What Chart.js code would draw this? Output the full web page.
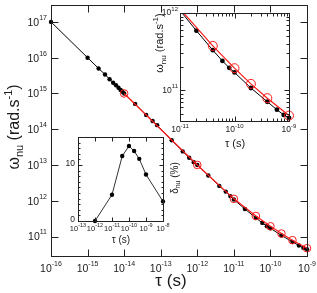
<!DOCTYPE html>
<html><head><meta charset="utf-8">
<script src="https://cdn.jsdelivr.net/npm/chart.js@4.4.0/dist/chart.umd.min.js"></script>
<style>
html,body{margin:0;padding:0;background:#fff;}
#wrap{position:relative;width:317px;height:293px;overflow:hidden;}
#wrap canvas{position:absolute;left:0;top:0;}
</style>
</head><body>
<div id="wrap">
<canvas id="main" width="317" height="293"></canvas>
<canvas id="ins1" width="317" height="293"></canvas>
<canvas id="ins2" width="317" height="293"></canvas>
</div>
<script>
// ---------------- data ----------------
const tauAll = [1e-16, 1e-15, 2e-15, 3e-15, 4e-15, 5e-15, 6e-15, 7e-15, 8e-15, 9e-15,
  1e-14, 2e-14, 4e-14, 6e-14, 8e-14, 2e-13, 4e-13, 6e-13, 8e-13,
  1e-12, 2e-12, 4e-12, 6e-12, 8e-12, 1e-11, 2e-11, 4e-11, 6e-11, 8e-11,
  1e-10, 2e-10, 4e-10, 6e-10, 8e-10, 1e-9];
const omegaAll = [1e17, 1e16, 5e15, 3.4e15, 2.5e15, 2.0e15, 1.7e15, 1.45e15, 1.25e15, 1.12e15,
  1.0e15, 5.1e14, 2.5e14, 1.7e14, 1.3e14, 4.9e13, 2.4e13, 1.6e13, 1.2e13,
  1.0e13, 5.1e12, 2.6e12, 1.8e12, 1.35e12, 1.08e12, 5.9e11, 3.3e11, 2.4e11, 1.95e11,
  1.7e11, 1.07e11, 7.1e10, 5.6e10, 4.8e10, 4.4e10];
const tauFit = [1e-14, 1e-12, 1e-11, 4e-11, 1e-10, 2e-10, 4e-10, 1e-9];
const omegaFit = [1.0e15, 1.0e13, 1.13e12, 3.75e11, 1.93e11, 1.21e11, 7.9e10, 4.7e10];
const tauDelta = [1e-12, 1e-11, 4e-11, 1e-10, 2e-10, 4e-10, 1e-9, 1e-8];
const deltaNu = [0, 4.7, 11.6, 13.4, 12.5, 11.1, 8.3, 3.5];

const mainXExp = [-16, -15, -14, -13, -12, -11, -10, -9];
const mainYExp = [11, 12, 13, 14, 15, 16, 17];
const ins1XExp = [-11, -10, -9];
const ins1YExp = [11, 12];
const ins2XExp = [-13, -12, -11, -10, -9, -8];
const ins2YTicks = [0, 10];

// ---------------- helpers ----------------
const FONT = '"Liberation Sans", Arial, Helvetica, sans-serif';
const TXT = '#1a1a1a';
const AX = '#222';
function pts(xs, ys) { return xs.map((x, i) => ({ x: x, y: ys[i] })); }
function p10(e) { return Number('1e' + e); }

function rich(ctx, parts, x, y, align, rot) {
  ctx.save();
  ctx.translate(x, y);
  if (rot) ctx.rotate(rot);
  ctx.fillStyle = TXT;
  ctx.textBaseline = 'middle';
  ctx.textAlign = 'left';
  let w = 0;
  const ws = parts.map(p => { ctx.font = p[1] + 'px ' + FONT; const m = ctx.measureText(p[0]).width; w += m; return m; });
  let sx = align === 'center' ? -w / 2 : (align === 'right' ? -w : 0);
  parts.forEach((p, i) => { ctx.font = p[1] + 'px ' + FONT; ctx.fillText(p[0], sx, p[2] || 0); sx += ws[i]; });
  ctx.restore();
}
function powParts(e, big, small) { return [['10', big, 0], [String(e), small, -big * 0.48]]; }

function minorLog(decades, lo, hi) {
  const out = [];
  decades.forEach(d => { for (let m = 2; m <= 9; m++) { const v = m * p10(d); if (v > lo && v < hi) out.push(v); } });
  return out;
}

function decor(spec) {
  return {
    id: 'decor_' + spec.name,
    beforeDraw(chart) {
      const a = chart.chartArea, ctx = chart.ctx;
      ctx.save();
      ctx.fillStyle = '#fff';
      if (spec.fillAll) ctx.fillRect(0, 0, chart.width, chart.height);
      else ctx.fillRect(a.left, a.top, a.right - a.left, a.bottom - a.top);
      ctx.restore();
    },
    afterDraw(chart) {
      const a = chart.chartArea, ctx = chart.ctx, xs = chart.scales.x, ys = chart.scales.y;
      const L = Math.round(a.left) + 0.5, R = Math.round(a.right) + 0.5, T = Math.round(a.top) + 0.5, B = Math.round(a.bottom) + 0.5;
      ctx.save();
      ctx.strokeStyle = AX;
      ctx.lineWidth = 1;
      ctx.beginPath();
      spec.xTicks.forEach(t => {
        const px = Math.round(xs.getPixelForValue(t[0])) + 0.5;
        ctx.moveTo(px, B); ctx.lineTo(px, B - t[1]);
        if (spec.topTicks !== false) { ctx.moveTo(px, T); ctx.lineTo(px, T + t[1]); }
      });
      spec.yTicks.forEach(t => {
        const py = Math.round(ys.getPixelForValue(t[0])) + 0.5;
        ctx.moveTo(L, py); ctx.lineTo(L + t[1], py);
        if (spec.rightTicks !== false) { ctx.moveTo(R, py); ctx.lineTo(R - t[1], py); }
      });
      ctx.stroke();
      ctx.strokeRect(L, T, R - L, B - T);
      ctx.restore();
      spec.xLabels.forEach(l => rich(ctx, l[1], xs.getPixelForValue(l[0]), spec.xLabelY, 'center'));
      spec.yLabels.forEach(l => rich(ctx, l[1], spec.yLabelX, ys.getPixelForValue(l[0]) + spec.yLabelDy, 'right'));
      spec.titles.forEach(t => rich(ctx, t.parts, t.x, t.y, 'center', t.rot || 0));
    }
  };
}

const baseOpts = (pad, xs, ys) => ({
  responsive: false, animation: false, devicePixelRatio: 1, events: [],
  layout: { padding: pad },
  scales: { x: Object.assign({ display: false }, xs), y: Object.assign({ display: false }, ys) },
  plugins: { legend: { display: false }, tooltip: { enabled: false }, title: { display: false } }
});

// ---------------- main chart ----------------
new Chart(document.getElementById('main'), {
  type: 'scatter',
  data: { datasets: [
    { data: pts(tauFit, omegaFit), showLine: true, borderColor: '#ff1a1a', borderWidth: 1.2,
      pointRadius: 3.8, pointBorderWidth: 1, pointBorderColor: '#ff1a1a', pointBackgroundColor: 'rgba(0,0,0,0)', order: 0, clip: false },
    { data: pts(tauAll, omegaAll), showLine: true, borderColor: '#000', borderWidth: 1,
      pointRadius: 2.2, pointBorderWidth: 0, pointBackgroundColor: '#000', order: 1, clip: false }
  ]},
  options: baseOpts({ left: 51, top: 1, right: 10, bottom: 37 },
    { type: 'logarithmic', min: 1e-16, max: 1e-9 },
    { type: 'logarithmic', min: Math.pow(10, 10.455), max: Math.pow(10, 17.473) }),
  plugins: [decor({
    name: 'main', fillAll: true,
    xTicks: mainXExp.map(e => [p10(e), 7]),
    yTicks: mainYExp.map(e => [p10(e), 7]),
    xLabels: mainXExp.map(e => [p10(e), powParts(e, 10.5, 7)]),
    xLabelY: 269,
    yLabels: mainYExp.map(e => [p10(e), powParts(e, 10.5, 7)]),
    yLabelX: 47, yLabelDy: 1,
    titles: [
      { parts: [['ω', 16, 0], ['nu', 11, 5], [' (rad.s', 16, 0], ['-1', 11, -6], [')', 16, 0]], x: 15, y: 127, rot: -Math.PI / 2 },
      { parts: [['τ (s)', 17, 0]], x: 171, y: 281 }
    ]
  })]
});

// ---------------- inset 1 (zoom) ----------------
const i1ymin = 4e10, i1ymax = 1e12;
new Chart(document.getElementById('ins1'), {
  type: 'scatter',
  data: { datasets: [
    { data: pts(tauFit, omegaFit), showLine: true, borderColor: '#ff1a1a', borderWidth: 1.2,
      pointRadius: 4.5, pointBorderWidth: 1, pointBorderColor: '#ff1a1a', pointBackgroundColor: 'rgba(0,0,0,0)', order: 0,
      clip: { left: 0, top: 0, right: 8, bottom: 8 } },
    { data: pts(tauAll, omegaAll), showLine: true, borderColor: '#000', borderWidth: 1,
      pointRadius: 2.4, pointBorderWidth: 0, pointBackgroundColor: '#000', order: 1,
      clip: { left: 0, top: 0, right: 8, bottom: 8 } }
  ]},
  options: baseOpts({ left: 180, top: 13, right: 28, bottom: 172 },
    { type: 'logarithmic', min: 1e-11, max: 1e-9 },
    { type: 'logarithmic', min: i1ymin, max: i1ymax }),
  plugins: [decor({
    name: 'ins1',
    xTicks: ins1XExp.map(e => [p10(e), 5]).concat(minorLog([-11, -10], 1e-11, 1e-9).map(v => [v, 3])),
    yTicks: ins1YExp.map(e => [p10(e), 5]).concat(minorLog([10, 11], i1ymin, i1ymax).map(v => [v, 3])),
    xLabels: ins1XExp.map(e => [p10(e), powParts(e, 8.5, 6)]),
    xLabelY: 130,
    yLabels: ins1YExp.map(e => [p10(e), powParts(e, 8.5, 6)]),
    yLabelX: 178, yLabelDy: 0,
    titles: [
      { parts: [['ω', 11, 0], ['nu', 8, 3.5], [' (rad.s', 11, 0], ['-1', 8, -4], [')', 11, 0]], x: 160, y: 43, rot: -Math.PI / 2 },
      { parts: [['τ (s)', 11, 0]], x: 235, y: 144 }
    ]
  })]
});

// ---------------- inset 2 (delta) ----------------
const i2minor = [];
for (let v = 1; v <= 14; v++) if (v !== 10) i2minor.push(v);
new Chart(document.getElementById('ins2'), {
  type: 'scatter',
  data: { datasets: [
    { data: pts(tauDelta, deltaNu), showLine: true, borderColor: '#333', borderWidth: 1,
      pointRadius: 2.2, pointBorderWidth: 0, pointBackgroundColor: '#000', clip: false }
  ]},
  options: baseOpts({ left: 78, top: 137, right: 154, bottom: 72 },
    { type: 'logarithmic', min: 1e-13, max: 1e-8 },
    { type: 'linear', min: 0, max: 15 }),
  plugins: [decor({
    name: 'ins2',
    xTicks: ins2XExp.map(e => [p10(e), 4]),
    yTicks: ins2YTicks.map(v => [v, 4]).concat(i2minor.map(v => [v, 2])),
    xLabels: ins2XExp.map(e => [p10(e), powParts(e, 7.5, 5.5)]),
    xLabelY: 229,
    yLabels: ins2YTicks.map(v => [v, [[String(v), 8.5, 0]]]),
    yLabelX: 75, yLabelDy: -1.5,
    titles: [
      { parts: [['τ (s)', 10, 0]], x: 121, y: 240 },
      { parts: [['δ', 10, 0], ['nu', 7, 3], [' (%)', 10, 0]], x: 175, y: 178, rot: -Math.PI / 2 }
    ]
  })]
});
</script>
</body></html>
